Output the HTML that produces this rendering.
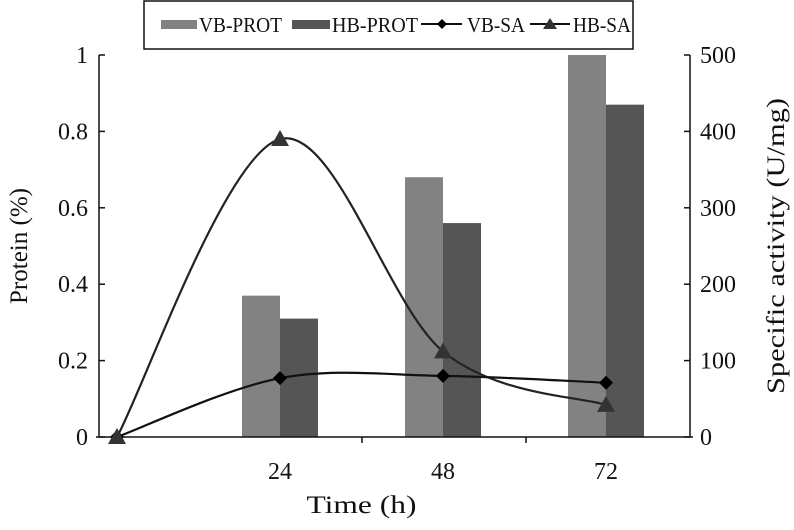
<!DOCTYPE html>
<html><head><meta charset="utf-8"><style>
body{margin:0;background:#fff}
text{font-family:"Liberation Serif",serif;fill:#111}
</style></head><body>
<svg id="c" width="794" height="525" xmlns="http://www.w3.org/2000/svg"></svg>
<script>
const categories=[0,24,48,72];
const vbProt=[null,0.37,0.68,1.0];
const hbProt=[null,0.31,0.56,0.87];
const vbSA=[0,77,80,71];
const hbSA=[0,390,112,42];
const leftTicks=["0","0.2","0.4","0.6","0.8","1"];
const rightTicks=["0","100","200","300","400","500"];
const NS="http://www.w3.org/2000/svg",svg=document.getElementById('c');
const X=t=>117+t*163/24, YL=v=>437-v*382, YR=v=>437-v*382/500;
function el(tag,a,p){const e=document.createElementNS(NS,tag);for(const k in a)e.setAttribute(k,a[k]);(p||svg).appendChild(e);return e;}
categories.forEach((c,i)=>{
 if(vbProt[i]!=null){const b=el('rect',{x:X(c)-38,y:YL(vbProt[i]),width:38,height:437-YL(vbProt[i]),fill:'#828282'});
 
 }
 if(hbProt[i]!=null){const b=el('rect',{x:X(c),y:YL(hbProt[i]),width:38,height:437-YL(hbProt[i]),fill:'#555'});
 
 }
});
const ax=el('g',{stroke:'#111','stroke-width':1.5,fill:'none'});


el('line',{x1:99,y1:55,x2:99,y2:437},ax);el('line',{x1:690,y1:55,x2:690,y2:437},ax);
el('line',{x1:96,y1:437,x2:693,y2:437},ax);
el('line',{x1:362,y1:437,x2:362,y2:443},ax);el('line',{x1:526,y1:437,x2:526,y2:443},ax);
leftTicks.forEach((t,i)=>{const v=i*0.2;el('line',{x1:99,y1:YL(v),x2:105,y2:YL(v)},ax);
 const tx=el('text',{x:88,y:YL(v)+8,'text-anchor':'end','font-size':24});tx.textContent=t;
 
 });
rightTicks.forEach((t,i)=>{const v=i*100;el('line',{x1:684,y1:YR(v),x2:690,y2:YR(v)},ax);
 const tx=el('text',{x:700,y:YR(v)+8,'font-size':24});tx.textContent=t;
 
 });
categories.slice(1).forEach(c=>{const tx=el('text',{x:X(c),y:479,'text-anchor':'middle','font-size':24});tx.textContent=c;
 
 });
function spline(vals){const p=vals.map((v,i)=>[X(categories[i]),YR(v)]);let d=`M${p[0]}`;
 for(let i=0;i<p.length-1;i++){const p0=p[i-1]||p[i],p1=p[i],p2=p[i+1],p3=p[i+2]||p2;
 const c1=[p1[0]+(p2[0]-p0[0])/6,p1[1]+(p2[1]-p0[1])/6],c2=[p2[0]-(p3[0]-p1[0])/6,p2[1]-(p3[1]-p1[1])/6];
 d+=`C${c1} ${c2} ${p2}`;}return d;}
const l1=el('path',{d:spline(hbSA),stroke:'#222','stroke-width':2.2,fill:'none'});


const l2=el('path',{d:spline(vbSA),stroke:'#111','stroke-width':2.2,fill:'none'});


categories.forEach((c,i)=>{const x=X(c),y=YR(vbSA[i]);
 const m=el('path',{d:`M${x} ${y-7}L${x+7} ${y}L${x} ${y+7}L${x-7} ${y}Z`,fill:'#000'});
 
 });
categories.forEach((c,i)=>{const x=X(c),y=YR(hbSA[i]);
 const m=el('path',{d:`M${x} ${y-9}L${x+9} ${y+7}L${x-9} ${y+7}Z`,fill:'#333'});
 
 });
let t=el('text',{x:X(36),y:513,'text-anchor':'middle','font-size':25,textLength:110,lengthAdjust:'spacingAndGlyphs'});t.textContent='Time (h)';


t=el('text',{transform:'translate(27,246) rotate(-90)','text-anchor':'middle','font-size':25});t.textContent='Protein (%)';


t=el('text',{transform:'translate(784,246) rotate(-90)','text-anchor':'middle','font-size':25,textLength:296,lengthAdjust:'spacingAndGlyphs'});t.textContent='Specific activity (U/mg)';


const lg=el('g',{});


el('rect',{x:144,y:1,width:489,height:48,fill:'#fff',stroke:'#111','stroke-width':1.5},lg);
el('rect',{x:161,y:20,width:36,height:9,fill:'#828282'},lg);
let lt=el('text',{x:199,y:32,'font-size':21,textLength:83,lengthAdjust:'spacingAndGlyphs'},lg);lt.textContent='VB-PROT';
el('rect',{x:292,y:20,width:38,height:9,fill:'#555'},lg);
lt=el('text',{x:332,y:32,'font-size':21,textLength:86,lengthAdjust:'spacingAndGlyphs'},lg);lt.textContent='HB-PROT';
el('line',{x1:421,y1:24,x2:462,y2:24,stroke:'#111','stroke-width':2},lg);
el('path',{d:'M442 19L447 24L442 29L437 24Z',fill:'#000'},lg);
lt=el('text',{x:467,y:32,'font-size':21,textLength:58,lengthAdjust:'spacingAndGlyphs'},lg);lt.textContent='VB-SA';
el('line',{x1:530,y1:24,x2:570,y2:24,stroke:'#111','stroke-width':2},lg);
el('path',{d:'M550 18L557 29L543 29Z',fill:'#333'},lg);
lt=el('text',{x:573,y:32,'font-size':21,textLength:58,lengthAdjust:'spacingAndGlyphs'},lg);lt.textContent='HB-SA';
</script>
</body></html>
